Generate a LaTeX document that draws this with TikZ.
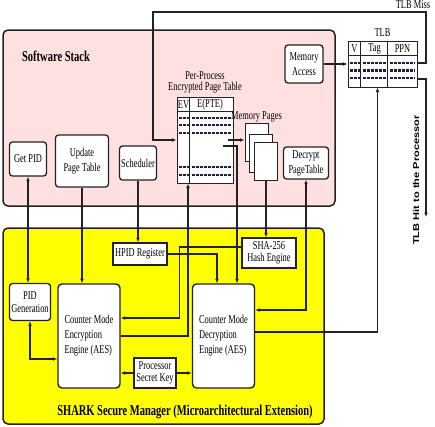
\documentclass[tikz,border=0pt]{standalone}
\usepackage{fontspec}
\setmainfont[FakeStretch=0.7]{Liberation Serif}
\newfontfamily\hitfont[FakeStretch=1.3]{Liberation Sans}
\usepackage{tikz}
\usetikzlibrary{arrows.meta,positioning}
\definecolor{stackPink}{HTML}{FFE0E0}
\definecolor{sharkYellow}{HTML}{FFFF00}
\definecolor{lineGrey}{HTML}{222222}
\definecolor{dotNavy}{HTML}{1C1C4A}
\tikzset{
  layerbox/.style={rectangle, rounded corners=5pt, draw=lineGrey, fill=#1, line width=1.5pt},
  titletext/.style={font=\fontsize{15}{17}\selectfont\bfseries, inner sep=1pt},
  unitbox/.style={rectangle, rounded corners=3pt, draw=lineGrey, fill=white, line width=1.3pt, align=center, font=\fontsize{12}{15}\selectfont, inner sep=1.5pt},
  enginebox/.style={rectangle, rounded corners=4pt, draw=lineGrey, fill=white, line width=1.4pt, align=left, font=\fontsize{12}{15}\selectfont, minimum width=62pt, minimum height=104pt, inner sep=3pt},
  regbox/.style={rectangle, draw=lineGrey, fill=white, line width=1.3pt, align=center, font=\fontsize{12}{12}\selectfont, inner sep=1.5pt},
  tablebox/.style={rectangle, draw=lineGrey, fill=white, line width=1pt, inner sep=0pt},
  pagebox/.style={rectangle, draw=lineGrey, fill=white, line width=1pt, minimum width=23pt, minimum height=38pt, inner sep=0pt},
  celltext/.style={font=\fontsize{12}{12}\selectfont, inner sep=0pt},
  plaintext/.style={font=\fontsize{12}{11}\selectfont, align=center, inner sep=1pt},
  hitlabel/.style={font=\hitfont\bfseries\fontsize{8.5}{9}\selectfont, inner sep=0pt},
  dotrow/.style={draw=dotNavy, line width=2.8pt, dash pattern=on 2.6pt off 1.4pt},
  wire/.style={-{Latex[length=4.5pt,width=3.8pt]}, line width=1.2pt, draw=lineGrey},
  twoway/.style={{Latex[length=4.5pt,width=3.8pt]}-{Latex[length=4.5pt,width=3.8pt]}, line width=1.2pt, draw=lineGrey},
}
\begin{document}
\begin{tikzpicture}[x=1pt,y=-1pt]
  \useasboundingbox (0,0) rectangle (435,426);
  % the two layers
  \node[layerbox=stackPink, minimum width=332pt, minimum height=176pt] (sw) at (169,118) {};
  \node[layerbox=sharkYellow, minimum width=321pt, minimum height=196pt] (shark) at (163.5,326) {};
  \node[titletext] (swtitle) at (56,56) {Software Stack};
  \node[titletext] (sharktitle) at (185,412) {SHARK Secure Manager (Microarchitectural Extension)};

  % software stack
  \node[unitbox, minimum width=37pt, minimum height=34pt] (getpid) at (28,159) {Get PID};
  \node[unitbox, minimum width=53pt, minimum height=52pt] (updpt) at (82,161) {Update\\Page Table};
  \node[unitbox, minimum width=37pt, minimum height=34pt] (sched) at (138,163) {Scheduler};
  \node[unitbox, minimum width=38pt, minimum height=38pt] (memacc) at (304,64) {Memory\\Access};
  \node[unitbox, minimum width=45pt, minimum height=32pt] (decpt) at (306,163) {Decrypt\\PageTable};

  % encrypted page table
  \node[tablebox, minimum width=56pt, minimum height=86pt] (pt) at (205,140) {};
  \node[plaintext, above=2pt of pt] (pttitle) {Per-Process\\Encrypted Page Table};
  \draw[line width=1pt, draw=lineGrey] ([yshift=-15pt]pt.north west) -- ([yshift=-15pt]pt.north east);
  \draw[line width=1pt, draw=lineGrey] ([xshift=13pt]pt.north west) -- ([xshift=13pt]pt.south west);
  \node[celltext] (evhead) at (183.5,104.5) {EV};
  \node[celltext] (ptehead) at (210,104.5) {E(PTE)};
  \foreach \y in {118,125,133,167,175} {
    \draw[dotrow] (179,\y) -- (189,\y);
    \draw[dotrow] (192,\y) -- (232,\y);
  }

  % memory pages
  \node[pagebox] (pg1) at (256.5,142.5) {};
  \node[pagebox] (pg2) at (261,153.5) {};
  \node[pagebox] (pg3) at (266,161) {};
  \node[plaintext, above=0pt of pg1] (pglabel) {Memory Pages};

  % TLB
  \node[tablebox, minimum width=69pt, minimum height=46pt] (tlb) at (382.5,64) {};
  \node[plaintext, above=3pt of tlb] (tlbtitle) {TLB};
  \draw[line width=1pt, draw=lineGrey] ([yshift=-15pt]tlb.north west) -- ([yshift=-15pt]tlb.north east);
  \draw[line width=1pt, draw=lineGrey] ([xshift=13pt]tlb.north west) -- ([xshift=13pt]tlb.south west);
  \draw[line width=1pt, draw=lineGrey] ([xshift=40pt]tlb.north west) -- ([xshift=40pt]tlb.south west);
  \node[celltext] (vhead) at (354.5,48.5) {V};
  \node[celltext] (taghead) at (374.5,48.5) {Tag};
  \node[celltext] (ppnhead) at (402.5,48.5) {PPN};
  \foreach \y in {63,70.5,78} {
    \draw[dotrow] (350,\y) -- (360,\y);
    \draw[dotrow] (363,\y) -- (387,\y);
    \draw[dotrow] (390,\y) -- (415,\y);
  }

  % secure manager
  \node[unitbox, minimum width=41pt, minimum height=37pt, font=\fontsize{12}{13}\selectfont] (pidgen) at (30,302) {PID\\Generation};
  \node[enginebox] (enc) at (89,336) {Counter Mode\\Encryption\\Engine (AES)};
  \node[enginebox] (dec) at (223.5,336) {Counter Mode\\Decryption\\Engine (AES)};
  \node[regbox, minimum width=54pt, minimum height=22pt] (hpid) at (140,254) {HPID Register};
  \node[regbox, minimum width=54pt, minimum height=30pt] (sha) at (269,253) {SHA-256\\Hash Engine};
  \node[regbox, minimum width=42pt, minimum height=30pt] (key) at (155,373) {Processor\\Secret Key};

  % connectors
  \coordinate (misscorner) at (426,12);
  \coordinate (missturn) at (153,12);
  \coordinate (hitend) at (426,217);
  \draw[twoway] (getpid.south) -- (getpid.south |- pidgen.north);
  \draw[twoway] (pidgen.south) |- ([yshift=-23pt]enc.west);
  \draw[wire] (updpt.south) -- (updpt.south |- enc.north);
  \draw[wire] (sched.south) -- (sched.south |- hpid.north);
  \draw[wire] (memacc.east) -- (memacc.east -| tlb.west);
  \draw[wire] ([yshift=1pt]tlb.east) -| (misscorner) -- (missturn) |- (pt.west);
  \node[plaintext] (misslabel) at (413,5) {TLB Miss};
  \draw[wire] ([yshift=-15pt]tlb.east) -| (hitend);
  \node[hitlabel, rotate=90] (hitlabel) at (416,180) {TLB Hit to the Processor};
  \draw[wire] ([xshift=-6pt]pt.east) -- (pt.east -| pg1.west);
  \draw[wire] ([xshift=-11pt,yshift=-6pt]pt.east) -| ([xshift=13.5pt]dec.north);
  \draw[wire] (enc.east) -| ([xshift=-17pt]pt.south);
  \draw[wire] (pg3.south) -- (pg3.south |- sha.north);
  \draw[wire] ([yshift=6pt]sha.west) -- ++(-62,0) |- ([yshift=18pt]enc.east);
  \draw[wire] (hpid.east) -| ([xshift=-6.5pt]dec.north);
  \draw[wire] (key.west) -- (key.west -| enc.east);
  \draw[wire] (key.east) -- (key.east -| dec.west);
  \draw[twoway] ([yshift=26pt]dec.east) -| (decpt.south);
  \draw[wire] ([yshift=4pt]dec.east) -| ([xshift=-5pt]tlb.south);
\end{tikzpicture}
\end{document}
